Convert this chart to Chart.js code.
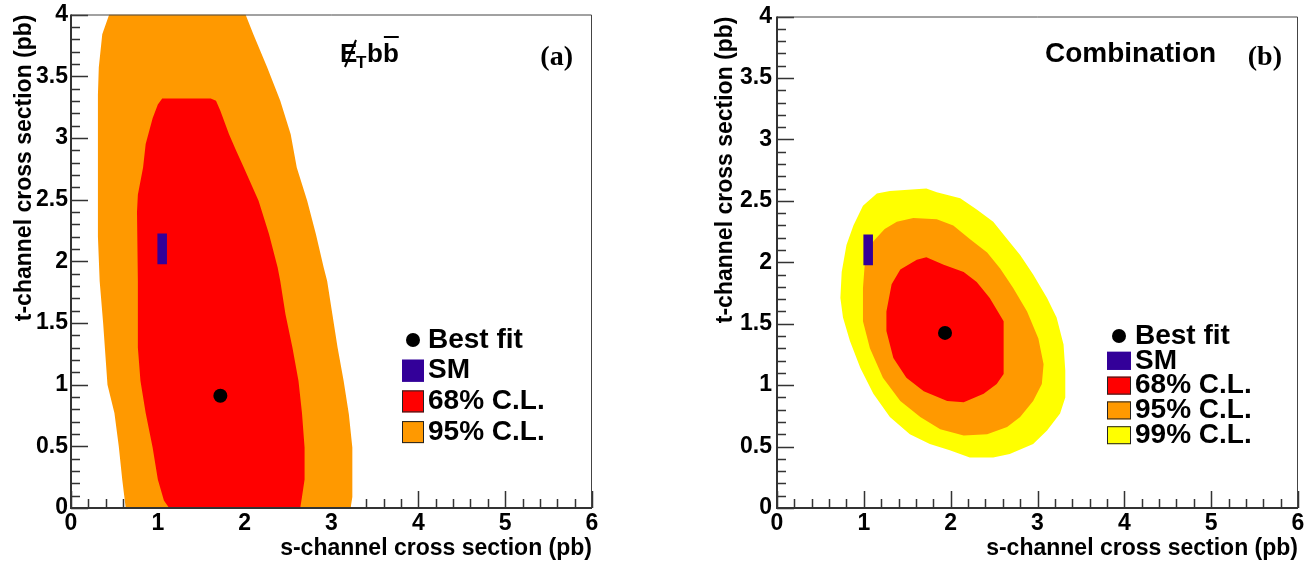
<!DOCTYPE html>
<html>
<head>
<meta charset="utf-8">
<script src="https://cdn.jsdelivr.net/npm/chart.js@4"></script>
<style>
  html, body { margin: 0; padding: 0; background: #fff; }
  #wrap { position: relative; width: 1313px; height: 561px; }
  #chartA { position: absolute; left: 0; top: 0; }
  #chartB { position: absolute; left: 656px; top: 0; }
</style>
</head>
<body>
<div id="wrap">
  <canvas id="chartA" width="656" height="561"></canvas>
  <canvas id="chartB" width="657" height="561"></canvas>
</div>
<script>
// axis tick labels
const xTicks = [0, 1, 2, 3, 4, 5, 6];
const yTicks = [0, 0.5, 1, 1.5, 2, 2.5, 3, 3.5, 4];

// SM prediction: value and half-width of its band (pb)
const smS = [1.05, 0.055];
const smT = [2.10, 0.125];

// panel (a): MET+bb channel
const bestFitA = [1.72, 0.91];
const a68S = [1.13, 1.07, 1.00, 0.94, 0.86, 0.80, 0.77, 0.77, 0.76, 0.77, 0.83, 0.86, 0.94, 1.00, 1.05, 1.61, 1.67, 1.72, 1.82, 1.90, 1.99, 2.16, 2.28, 2.38, 2.41, 2.47, 2.55, 2.62, 2.66, 2.69, 2.69, 2.66, 2.64];
const a68T = [0.00, 0.06, 0.23, 0.49, 0.77, 1.03, 1.30, 1.84, 2.40, 2.54, 2.76, 2.95, 3.16, 3.27, 3.32, 3.32, 3.30, 3.22, 3.03, 2.90, 2.76, 2.49, 2.22, 1.95, 1.84, 1.57, 1.30, 1.03, 0.77, 0.49, 0.23, 0.09, 0.00];
const a95S = [0.63, 0.59, 0.55, 0.50, 0.42, 0.37, 0.33, 0.31, 0.31, 0.31, 0.32, 0.36, 0.44, 2.01, 2.10, 2.26, 2.41, 2.53, 2.60, 2.72, 2.82, 2.91, 2.95, 3.01, 3.07, 3.14, 3.20, 3.24, 3.24, 3.22];
const a95T = [0.00, 0.23, 0.50, 0.77, 1.00, 1.50, 1.84, 2.20, 3.00, 3.35, 3.57, 3.84, 4.00, 4.00, 3.84, 3.57, 3.30, 3.03, 2.76, 2.49, 2.22, 1.95, 1.84, 1.57, 1.30, 1.03, 0.76, 0.49, 0.09, 0.00];

// panel (b): combination
const bestFitB = [1.935, 1.425];
const b68S = [1.61, 1.72, 1.92, 2.15, 2.30, 2.45, 2.61, 2.61, 2.53, 2.38, 2.15, 1.96, 1.69, 1.49, 1.34, 1.26, 1.26, 1.32, 1.42];
const b68T = [2.02, 2.04, 1.98, 1.92, 1.84, 1.71, 1.52, 1.09, 1.01, 0.93, 0.86, 0.87, 0.95, 1.06, 1.22, 1.44, 1.60, 1.82, 1.94];
const b95S = [1.38, 1.57, 1.84, 2.03, 2.22, 2.42, 2.57, 2.72, 2.88, 3.01, 3.07, 3.05, 2.95, 2.80, 2.65, 2.42, 2.15, 1.88, 1.65, 1.42, 1.22, 1.07, 0.99, 0.99, 1.01, 1.11, 1.24];
const b95T = [2.33, 2.36, 2.35, 2.30, 2.19, 2.08, 1.95, 1.79, 1.60, 1.38, 1.17, 1.01, 0.87, 0.74, 0.66, 0.60, 0.59, 0.64, 0.74, 0.87, 1.06, 1.30, 1.52, 1.79, 1.98, 2.17, 2.27];
const b99S = [1.15, 1.30, 1.72, 1.84, 2.11, 2.30, 2.49, 2.65, 2.80, 2.95, 3.11, 3.22, 3.30, 3.32, 3.32, 3.26, 3.11, 2.95, 2.68, 2.49, 2.22, 1.99, 1.76, 1.53, 1.30, 1.11, 0.96, 0.84, 0.76, 0.73, 0.745, 0.80, 0.88, 0.99];
const b99T = [2.56, 2.58, 2.60, 2.57, 2.52, 2.43, 2.33, 2.19, 2.06, 1.90, 1.71, 1.55, 1.33, 1.12, 0.90, 0.77, 0.63, 0.52, 0.44, 0.41, 0.41, 0.47, 0.52, 0.60, 0.74, 0.93, 1.14, 1.36, 1.55, 1.71, 1.92, 2.14, 2.30, 2.46];

const FONT = '"Liberation Sans", Arial, Helvetica, sans-serif';
const SERIF = '"Liberation Serif", "Times New Roman", serif';
const RED = '#ff0000', ORANGE = '#ff9900', YELLOW = '#ffff00', SMCOL = '#330099';

function poly(s, t) {
  return s.map((v, i) => ({ x: v, y: t[i] }));
}

function smBox() {
  const [s, ds] = smS, [t, dt] = smT;
  return [{ x: s - ds, y: t - dt }, { x: s + ds, y: t - dt }, { x: s + ds, y: t + dt }, { x: s - ds, y: t + dt }];
}

function region(label, pts, color, order) {
  return {
    label: label, data: pts, showLine: true, fill: 'shape', tension: 0,
    backgroundColor: color, borderColor: 'rgba(0,0,0,0)', borderWidth: 0,
    pointRadius: 0, pointHoverRadius: 0, order: order, legendKind: 'box'
  };
}

function bestFit(p) {
  return {
    label: 'Best fit', data: [{ x: p[0], y: p[1] }], showLine: false,
    pointRadius: 7, pointHoverRadius: 7, backgroundColor: '#000', borderWidth: 0,
    order: 1, legendKind: 'dot'
  };
}

// inward ROOT-style ticks under the contours, frame on top
const frameAndTicks = {
  id: 'frameAndTicks',
  beforeDatasetsDraw(chart) {
    const { ctx, chartArea: a, scales: { x, y } } = chart;
    ctx.save();
    ctx.strokeStyle = '#333';
    ctx.lineWidth = 1.5;
    ctx.beginPath();
    for (let i = 0; i <= 30; i++) {
      const px = Math.round(x.getPixelForValue(i * 0.2)) + 0.5;
      const len = i % 5 === 0 ? 17 : 9;
      ctx.moveTo(px, a.bottom);
      ctx.lineTo(px, a.bottom - len);
    }
    for (let i = 0; i <= 40; i++) {
      const py = Math.round(y.getPixelForValue(i * 0.1)) + 0.5;
      const len = i % 5 === 0 ? 17 : 9;
      ctx.moveTo(a.left, py);
      ctx.lineTo(a.left + len, py);
    }
    ctx.stroke();
    ctx.restore();
  },
  afterDatasetsDraw(chart) {
    const { ctx, chartArea: a } = chart;
    ctx.save();
    ctx.strokeStyle = '#444';
    ctx.lineWidth = 1;
    ctx.beginPath();
    ctx.moveTo(a.left, a.top + 0.5);
    ctx.lineTo(a.right - 0.5, a.top + 0.5);
    ctx.lineTo(a.right - 0.5, a.bottom);
    ctx.stroke();
    ctx.strokeStyle = '#333';
    ctx.lineWidth = 2;
    ctx.beginPath();
    ctx.moveTo(a.left, a.top);
    ctx.lineTo(a.left, a.bottom);
    ctx.lineTo(a.right, a.bottom);
    ctx.stroke();
    ctx.restore();
  }
};

const boxLegend = {
  id: 'boxLegend',
  afterDatasetsDraw(chart, args, opts) {
    const ctx = chart.ctx;
    const items = chart.data.datasets.slice().sort((p, q) => p.order - q.order);
    ctx.save();
    ctx.font = 'bold 28px ' + FONT;
    ctx.textBaseline = 'middle';
    items.forEach((ds, i) => {
      const cy = opts.y + i * opts.row;
      if (ds.legendKind === 'dot') {
        ctx.fillStyle = '#000';
        ctx.beginPath();
        ctx.arc(opts.x + opts.w / 2, cy, 7, 0, Math.PI * 2);
        ctx.fill();
      } else {
        ctx.fillStyle = ds.backgroundColor;
        ctx.fillRect(opts.x, cy - opts.h / 2, opts.w, opts.h);
        ctx.strokeStyle = ds.label === 'SM' ? ds.backgroundColor : '#222';
        ctx.lineWidth = 1;
        ctx.strokeRect(opts.x + 0.5, cy - opts.h / 2 + 0.5, opts.w - 1, opts.h - 1);
      }
      ctx.fillStyle = '#000';
      ctx.fillText(ds.label, opts.textX, cy);
    });
    ctx.restore();
  }
};

function scales(yTitlePad, yLabelPad) {
  return {
    x: {
      type: 'linear', min: 0, max: 6,
      afterBuildTicks: s => { s.ticks = xTicks.map(v => ({ value: v })); },
      afterFit: s => { s.height = 53; },
      grid: { display: false, drawTicks: false },
      border: { display: false },
      ticks: { color: '#000', padding: 4, maxRotation: 0, autoSkip: false,
               callback: v => String(v),
               font: { family: FONT, size: 23, weight: 'bold', lineHeight: 1 } },
      title: { display: true, text: 's-channel cross section (pb)', align: 'end', color: '#000',
               padding: { top: 0, bottom: 0 },
               font: { family: FONT, size: 23, weight: 'bold', lineHeight: 1.1 } }
    },
    y: {
      type: 'linear', min: 0, max: 4,
      afterBuildTicks: s => { s.ticks = yTicks.map(v => ({ value: v })); },
      afterFit: s => { s.width = 70; },
      grid: { display: false, drawTicks: false },
      border: { display: false },
      ticks: { color: '#000', padding: yLabelPad, autoSkip: false,
               callback: v => String(v),
               font: { family: FONT, size: 23, weight: 'bold', lineHeight: 1 } },
      title: { display: true, text: 't-channel cross section (pb)', align: 'end', color: '#000',
               padding: { top: yTitlePad, bottom: 0 },
               font: { family: FONT, size: 23, weight: 'bold', lineHeight: 1.1 } }
    }
  };
}

const commonPlugins = {
  legend: { display: false },
  tooltip: { enabled: false }
};

// panel (a)
new Chart(document.getElementById('chartA'), {
  type: 'scatter',
  data: {
    datasets: [
      bestFit(bestFitA),
      region('SM', smBox(), SMCOL, 2),
      region('68% C.L.', poly(a68S, a68T), RED, 3),
      region('95% C.L.', poly(a95S, a95T), ORANGE, 4)
    ]
  },
  options: {
    responsive: false, animation: false, events: [],
    layout: { padding: { left: 1, top: 13, right: 64, bottom: 0 } },
    scales: scales(11, 3),
    plugins: Object.assign({
      boxLegend: { x: 402, y: 340, row: 30.7, w: 22, h: 22, textX: 428 }
    }, commonPlugins)
  },
  plugins: [frameAndTicks, boxLegend, {
    id: 'titleA',
    afterDraw(chart) {
      const ctx = chart.ctx;
      ctx.save();
      ctx.fillStyle = '#000';
      ctx.strokeStyle = '#000';
      ctx.textBaseline = 'alphabetic';
      ctx.font = 'bold 26px ' + FONT;
      ctx.fillText('E', 340, 62);
      ctx.lineWidth = 2;
      ctx.beginPath();
      ctx.moveTo(356, 40);
      ctx.lineTo(345, 67);
      ctx.stroke();
      ctx.font = 'bold 17px ' + FONT;
      ctx.fillText('T', 356, 68);
      ctx.font = 'bold 26px ' + FONT;
      const bw = ctx.measureText('b').width;
      ctx.fillText('b', 367, 62);
      ctx.fillText('b', 367 + bw, 62);
      ctx.lineWidth = 2;
      ctx.beginPath();
      ctx.moveTo(367 + bw + 1, 37);
      ctx.lineTo(367 + 2 * bw, 37);
      ctx.stroke();
      ctx.font = 'bold 28px ' + SERIF;
      ctx.textAlign = 'right';
      ctx.fillText('(a)', 573, 65);
      ctx.restore();
    }
  }]
});

// panel (b)
new Chart(document.getElementById('chartB'), {
  type: 'scatter',
  data: {
    datasets: [
      bestFit(bestFitB),
      region('SM', smBox(), SMCOL, 2),
      region('68% C.L.', poly(b68S, b68T), RED, 3),
      region('95% C.L.', poly(b95S, b95T), ORANGE, 4),
      region('99% C.L.', poly(b99S, b99T), YELLOW, 5)
    ]
  },
  options: {
    responsive: false, animation: false, events: [],
    layout: { padding: { left: 51, top: 13, right: 15, bottom: 0 } },
    scales: scales(6, 5),
    plugins: Object.assign({
      boxLegend: { x: 451, y: 336, row: 24.8, w: 24, h: 18, textX: 479 }
    }, commonPlugins)
  },
  plugins: [frameAndTicks, boxLegend, {
    id: 'titleB',
    afterDraw(chart) {
      const ctx = chart.ctx;
      ctx.save();
      ctx.fillStyle = '#000';
      ctx.textBaseline = 'alphabetic';
      ctx.font = 'bold 28px ' + FONT;
      ctx.fillText('Combination', 389, 62);
      ctx.font = 'bold 28px ' + SERIF;
      ctx.textAlign = 'right';
      ctx.fillText('(b)', 626, 65);
      ctx.restore();
    }
  }]
});
</script>
</body>
</html>
